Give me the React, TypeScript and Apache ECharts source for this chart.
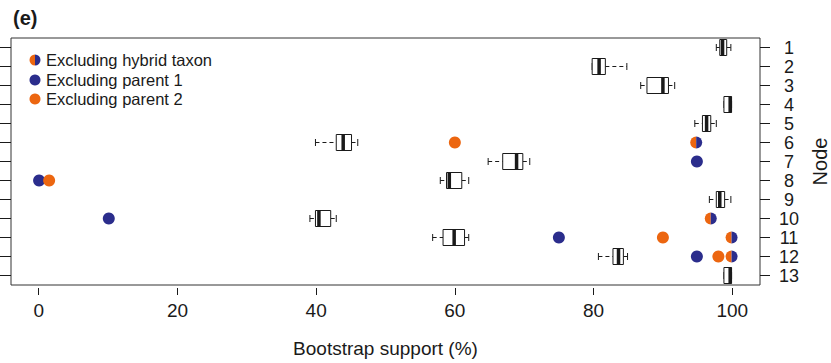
import React, { useEffect, useRef } from 'react';
import * as echarts from 'echarts';

// Node categories (y axis, top to bottom)
const nodes = ['1', '2', '3', '4', '5', '6', '7', '8', '9', '10', '11', '12', '13'];
// X tick labels
const xTicks = [0, 20, 40, 60, 80, 100];

// Boxplot statistics per node (bootstrap support %)
const whiskerLow = [97.7, 79.8, 86.8, 98.8, 94.6, 39.9, 64.8, 57.9, 96.7, 39.1, 56.8, 80.7, 98.8];
const q1 = [98.2, 79.8, 87.7, 98.8, 95.7, 42.9, 66.9, 58.8, 97.7, 39.9, 58.3, 82.8, 98.8];
const median = [98.6, 80.8, 90.0, 99.7, 96.3, 43.9, 68.9, 59.2, 98.2, 40.4, 59.9, 83.6, 99.7];
const q3 = [99.2, 81.7, 90.8, 99.9, 96.9, 45.1, 69.8, 61.0, 98.9, 42.1, 61.4, 84.3, 99.9];
const whiskerHigh = [99.8, 84.8, 91.7, 99.9, 97.7, 46.0, 70.8, 62.0, 99.8, 42.9, 62.0, 84.9, 99.9];

// Excluding hybrid taxon
const hybridNodes = ['6', '10', '11', '12'];
const hybridValues = [94.8, 96.9, 99.9, 99.9];
// Excluding parent 1
const parent1Nodes = ['7', '8', '10', '11', '12'];
const parent1Values = [94.9, 0.05, 10.1, 75.0, 94.9];
// Excluding parent 2
const parent2Nodes = ['6', '8', '11', '12'];
const parent2Values = [60.0, 1.5, 90.0, 98.0];

const legendLabels = ['Excluding hybrid taxon', 'Excluding parent 1', 'Excluding parent 2'];

const BLUE = '#2B2D8C';
const ORANGE = '#EC6610';
const INK = '#1a1a1a';
const FONT = "'Liberation Sans', Arial, sans-serif";
const NARROW = "'Liberation Sans Narrow', 'Liberation Sans', Arial, sans-serif";

export default function App() {
  const ref = useRef<HTMLDivElement>(null);

  useEffect(() => {
    if (!ref.current) return;
    const chart = echarts.init(ref.current, undefined, { renderer: 'svg' });

    const boxData = nodes.map((_, i) => [i, whiskerLow[i], q1[i], median[i], q3[i], whiskerHigh[i]]);
    const hybridData = hybridNodes.map((n, i) => [hybridValues[i], nodes.indexOf(n)]);

    const option: any = {
      animation: false,
      backgroundColor: '#fff',
      grid: {
        left: 11, right: 71, top: 38, bottom: 78,
        containLabel: false, outerBoundsMode: 'none',
        show: true, borderColor: '#333', borderWidth: 1, backgroundColor: 'transparent',
      },
      xAxis: {
        type: 'value', min: -4, max: 104, position: 'bottom', offset: 3,
        axisLine: { show: false, onZero: false },
        axisTick: { show: true, length: 7, customValues: xTicks, lineStyle: { color: INK, width: 1 } },
        axisLabel: { customValues: xTicks, fontSize: 19, color: INK, margin: 13, fontFamily: FONT },
        splitLine: { show: false },
        name: 'Bootstrap support (%)', nameLocation: 'middle', nameGap: 51,
        nameTextStyle: { fontSize: 19, color: INK, fontFamily: FONT },
      },
      yAxis: [
        {
          type: 'category', data: nodes, inverse: true, position: 'right',
          axisLine: { show: false, onZero: false },
          axisTick: { show: true, length: 10, alignWithLabel: true, interval: 0, lineStyle: { color: INK } },
          axisLabel: {
            interval: 0, fontSize: 18, lineHeight: 18, color: INK, margin: 29, align: 'center',
            fontFamily: NARROW,
          },
          splitLine: { show: false },
          name: 'Node', nameLocation: 'middle', nameRotate: 90, nameGap: 50,
          nameTextStyle: { fontSize: 20, color: INK, fontFamily: NARROW },
        },
        {
          type: 'category', data: nodes, inverse: true, position: 'left',
          axisLine: { show: false, onZero: false },
          axisTick: { show: true, length: 11, alignWithLabel: true, interval: 0, lineStyle: { color: INK } },
          axisLabel: { show: false, interval: 0 },
          splitLine: { show: false },
        },
      ],
      series: [
        {
          type: 'custom', xAxisIndex: 0, yAxisIndex: 0,
          data: boxData,
          encode: { x: [1, 2, 3, 4, 5], y: 0 },
          renderItem: (_params: any, api: any) => {
            const idx = api.value(0);
            const y = api.coord([0, idx])[1];
            const px = (k: number) => api.coord([api.value(k), idx])[0];
            const xMin = px(1), xQ1 = px(2), xMed = px(3), xQ3 = px(4), xMax = px(5);
            const h = 8, c = 3.5;
            const stroke = { stroke: INK, lineWidth: 1 };
            return {
              type: 'group',
              children: [
                { type: 'line', shape: { x1: xMin, y1: y, x2: xQ1, y2: y }, style: { ...stroke, lineDash: [4, 3] } },
                { type: 'line', shape: { x1: xQ3, y1: y, x2: xMax, y2: y }, style: { ...stroke, lineDash: [4, 3] } },
                { type: 'line', shape: { x1: xMin, y1: y - c, x2: xMin, y2: y + c }, style: stroke },
                { type: 'line', shape: { x1: xMax, y1: y - c, x2: xMax, y2: y + c }, style: stroke },
                { type: 'rect', shape: { x: xQ1, y: y - h, width: xQ3 - xQ1, height: 2 * h }, style: { fill: '#fff', ...stroke } },
                { type: 'line', shape: { x1: xMed, y1: y - h, x2: xMed, y2: y + h }, style: { stroke: INK, lineWidth: 3.5 } },
              ],
            };
          },
          z: 2,
        },
        {
          name: legendLabels[1], type: 'scatter', xAxisIndex: 0, yAxisIndex: 0,
          data: parent1Nodes.map((n, i) => [parent1Values[i], n]),
          symbol: 'circle', symbolSize: 12, itemStyle: { color: BLUE, opacity: 1 }, z: 3,
        },
        {
          name: legendLabels[2], type: 'scatter', xAxisIndex: 0, yAxisIndex: 0,
          data: parent2Nodes.map((n, i) => [parent2Values[i], n]),
          symbol: 'circle', symbolSize: 12, itemStyle: { color: ORANGE, opacity: 1 }, z: 3,
        },
        {
          name: legendLabels[0], type: 'custom', xAxisIndex: 0, yAxisIndex: 0,
          data: hybridData,
          encode: { x: 0, y: 1 },
          renderItem: (_params: any, api: any) => {
            const p = api.coord([api.value(0), api.value(1)]);
            return {
              type: 'group',
              children: [
                { type: 'sector', shape: { cx: p[0], cy: p[1], r: 6, r0: 0, startAngle: Math.PI / 2, endAngle: (Math.PI * 3) / 2, clockwise: true }, style: { fill: ORANGE } },
                { type: 'sector', shape: { cx: p[0], cy: p[1], r: 6, r0: 0, startAngle: -Math.PI / 2, endAngle: Math.PI / 2, clockwise: true }, style: { fill: BLUE } },
              ],
            };
          },
          z: 4,
        },
      ],
      graphic: [
        { type: 'text', left: 13, top: 8, style: { text: '(e)', fontSize: 20, fontWeight: 'bold', fill: INK, fontFamily: FONT } },
        { type: 'sector', shape: { cx: 35, cy: 60, r: 5.5, r0: 0, startAngle: Math.PI / 2, endAngle: (Math.PI * 3) / 2, clockwise: true }, style: { fill: ORANGE } },
        { type: 'sector', shape: { cx: 35, cy: 60, r: 5.5, r0: 0, startAngle: -Math.PI / 2, endAngle: Math.PI / 2, clockwise: true }, style: { fill: BLUE } },
        { type: 'circle', shape: { cx: 35, cy: 80, r: 5.5 }, style: { fill: BLUE } },
        { type: 'circle', shape: { cx: 35, cy: 99, r: 5.5 }, style: { fill: ORANGE } },
        ...legendLabels.map((t, i) => ({
          type: 'text', x: 46, y: [60, 80, 99][i],
          style: { text: t, fontSize: 16.5, fill: INK, fontFamily: FONT, textVerticalAlign: 'middle', verticalAlign: 'middle' },
        })),
      ],
    };

    chart.setOption(option);
    return () => chart.dispose();
  }, []);

  return <div ref={ref} style={{ position: 'fixed', left: 0, top: 0, width: 831, height: 363 }} />;
}
